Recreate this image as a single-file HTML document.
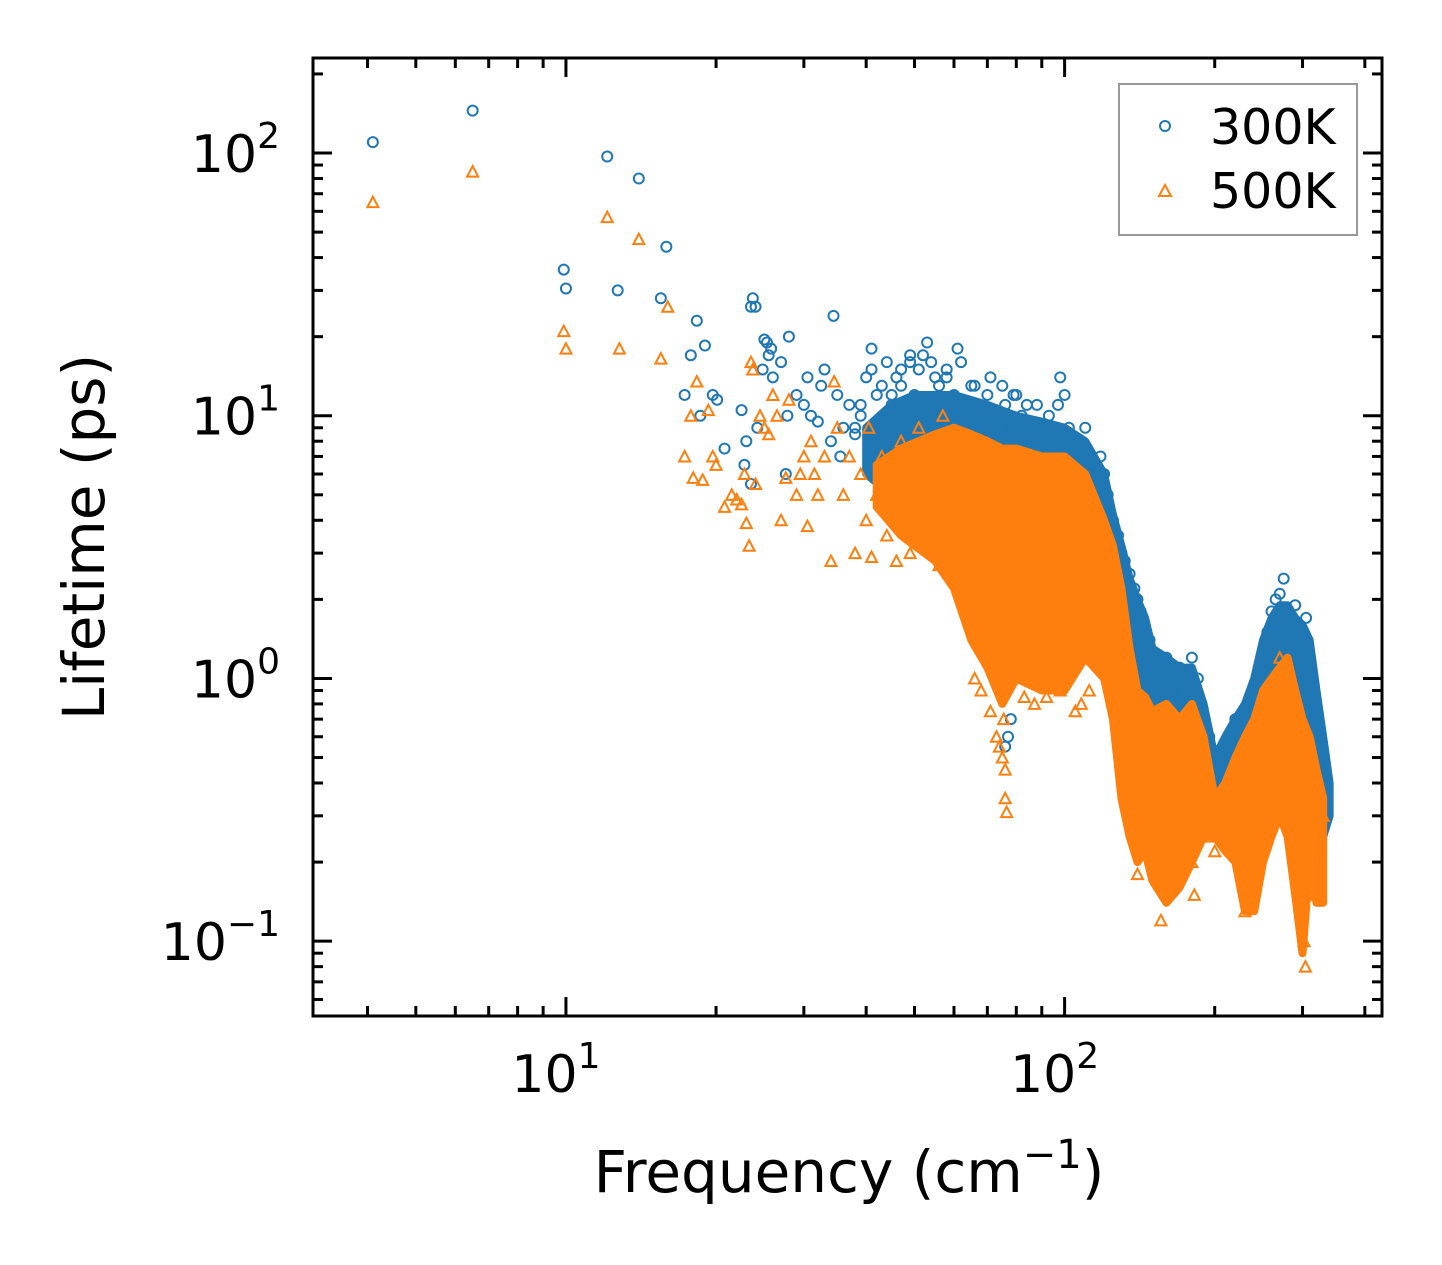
<!DOCTYPE html>
<html><head><meta charset="utf-8">
<style>
html,body{margin:0;padding:0;background:#fff;}
svg{display:block;font-family:"DejaVu Sans","Liberation Sans",sans-serif;}
</style></head>
<body>
<svg id="chart" width="1442" height="1265" viewBox="0 0 1442 1265" xmlns="http://www.w3.org/2000/svg">
<rect x="0" y="0" width="1442" height="1265" fill="#fff"/>
<g id="plot"></g>
<g id="axes"></g>
<g>
<rect x="1119" y="84" width="238" height="151" fill="#fff" stroke="#999" stroke-width="2"/>
<circle cx="1165" cy="126" r="5" fill="none" stroke="#1f77b4" stroke-width="2"/>
<text x="1210" y="144" font-size="49" fill="#000">300K</text>
<path d="M1159,196 L1165,185 L1171,196 Z" fill="none" stroke="#ff7f0e" stroke-width="2"/>
<text x="1210" y="208" font-size="49" fill="#000">500K</text>
</g>
<text x="849" y="1192" font-size="58" text-anchor="middle">Frequency (cm<tspan font-size="40" dy="-24">−1</tspan><tspan dy="24">)</tspan></text>
<text transform="translate(104,537) rotate(-90)" font-size="58" text-anchor="middle">Lifetime (ps)</text>
</svg>
<script>
// ---- data ----
const blueFreq = [4.1,6.5,9.9,10,12.1,12.7,14,15.5,15.9,17.3,17.8,18.3,18.6,19,19.7,20.1,20.8,22.5,22.8,23,23.5,23.5,23.7,24,24.2,24.8,25,25.3,25.5,25.8,26,27,27.6,27.8,28,29,30,30.5,31,32,32.5,33,34,34.4,35,35.5,36,37,38,39,40,41,42,43,44,45,46,47,48,49,50,51,52,53,54,55,56,57,58,60,61,62,63,65,66,68,70,72,74,75,76,78,80,82,85,88,90,92,95,98,100,102,104,106,108,110,112,115,118,120,122,125,128,130,132,135,138,140,142,145,148,150,155,160,165,170,175,180,185,190,195,200,205,210,215,220,225,230,235,240,245,250,255,260,265,270,275,280,285,290,295,300,305,310,315,320,325,330,335,76,77,78,38,39,41,43,45,47,49,52,55,58,62,66,71,79,84,93,97];
const blueLife = [110,145,36,30.5,97,30,80,28,44,12,17,23,10,18.5,12,11.5,7.5,10.5,6.5,8,5.5,26,28,26,9,15,19.5,19,17,18,14,16,6,10,20,12,11,14,10,9.5,13,15,8,24,12,7,9,11,8.5,10,14,18,12,9,16,11,14,13,9,17,12,15,10,19,16,11,13,9,14,12,18,10,8,13,11,9,12,10,8,13,11,9,12,10,8,11,9,7,8,14,12,9,7,8,6,9,6,5,7,6,5,4,3.5,3,2.8,2.5,2.2,2,1.8,1.5,1.4,1.2,1.1,1.2,0.9,1.1,0.8,1.2,1,0.7,0.6,0.4,0.35,0.4,0.5,0.7,0.6,0.75,0.5,0.7,0.9,1.2,1.5,1.8,2,2.1,2.4,1.8,1.5,1.9,1.6,1.3,1.7,1,0.8,0.6,0.5,0.4,0.3,0.55,0.6,0.7,9,11,15,13,12,15,16,17,14,15,16,13,14,12,11,10,11];
const blueBandFreq = [40,45,50,60,70,80,90,100,110,120,125,130,135,140,145,150,160,170,180,190,200,210,220,230,240,250,260,270,280,290,300,310,320,330,340];
const blueBandLo   = [6,5,4,3,2.5,2,2,2,1.8,1.2,1,0.8,0.5,0.3,0.28,0.25,0.28,0.3,0.35,0.3,0.25,0.25,0.3,0.3,0.3,0.35,0.35,0.35,0.3,0.3,0.3,0.28,0.25,0.25,0.3];
const blueBandHi   = [9,11,12,12,11,10,9.5,9,8,6,4.2,3.2,2.4,2,1.7,1.3,1.2,1.1,1.1,0.8,0.5,0.6,0.7,0.8,1.0,1.4,1.7,1.9,1.9,1.7,1.6,1.4,0.9,0.6,0.4];

const orangeFreq = [4.1,6.5,9.9,10,12.1,12.8,14,15.5,16,17.3,17.8,18,18.3,18.8,19.3,19.7,20,20.8,21.5,22,22.5,22.8,23,23.3,23.5,23.7,24,24.5,25,25.5,26,26.5,27,27.6,28,29,29.5,30,30.5,31,31.5,32,33,34,34.5,35,36,37,38,39,40,40.5,41,42,43,44,45,46,47,48,49,50,51,52,53,54,55,56,57,58,59,60,61,62,63,64,65,66,67,68,69,70,71,72,73,74,75,75.5,76,76.5,77,78,79,80,82,84,86,88,90,92,94,96,98,100,102,104,106,108,110,112,114,116,118,120,122,125,128,130,132,134,136,138,140,142,144,146,148,150,152,154,156,158,160,162,165,168,170,175,178,180,182,185,188,192,196,200,205,210,215,220,225,230,232,235,240,245,250,255,260,265,270,275,280,285,290,295,300,302,304,306,310,315,320,325,330,66,68,71,73,74,75,76,83,87,92,105,108,112];
const orangeLife = [65,85,21,18,57,18,47,16.5,26,7,10,5.8,13.5,5.7,10.5,7,6.5,4.5,5,4.8,4.6,6,3.9,3.2,16,15,5.5,10,9,8.5,12,10,4,5.8,11.5,5,6,7,3.8,8,6,5,7,2.8,13.5,9,5,7,3,6,4,9,2.9,5,7,3.5,6,2.8,8,4.5,3,6,9,4,3.2,7,5,2.7,10,4,6,3,8,2.5,5,2,7,3.5,1.8,6,2.5,4,1.5,5,2.2,1.2,3,0.7,0.35,0.31,1.5,5,2,3.5,1.3,2.5,4,1.2,3,1.8,4,2.2,0.9,3,5,1.5,2,6,1.3,4,2.5,1.8,3,2,1.5,1.2,1,0.8,0.7,0.5,0.35,0.25,0.18,0.3,0.5,0.4,0.7,0.5,0.3,0.2,0.12,0.25,0.4,0.6,0.3,0.2,0.45,0.7,0.3,0.2,0.15,0.6,0.35,0.3,0.25,0.22,0.28,0.25,0.3,0.35,0.2,0.13,0.3,0.4,0.5,0.3,0.6,0.8,0.5,0.9,1.2,0.7,0.5,0.3,0.8,0.4,0.25,0.1,0.08,0.15,0.5,0.35,0.2,0.15,0.3,1.0,0.9,0.75,0.6,0.55,0.5,0.45,0.85,0.8,0.85,0.75,0.8,0.9];
const orangeBandFreq = [42,47,55,60,65,70,75,80,90,100,110,120,125,130,135,140,145,150,160,170,180,190,200,210,220,230,240,250,260,270,280,290,300,310,320,330];
const orangeBandLo   = [4.5,3.5,2.8,2.2,1.4,1.1,0.8,1,0.9,0.9,1.2,1,0.7,0.35,0.25,0.2,0.22,0.17,0.14,0.16,0.2,0.25,0.25,0.22,0.2,0.13,0.13,0.2,0.25,0.3,0.25,0.15,0.09,0.2,0.14,0.14];
const orangeBandHi   = [6.5,7.5,8.5,9,8.5,8,7.5,7.5,7,7,6,4,3.2,2.2,1.3,0.9,0.85,0.75,0.8,0.7,0.8,0.6,0.35,0.4,0.5,0.6,0.7,0.9,1.0,1.1,1.2,0.9,0.7,0.6,0.45,0.35];

const xTickVals = [10,100];
const xTickExps = ["1","2"];
const yTickVals = [0.1,1,10,100];
const yTickExps = ["−1","0","1","2"];

// ---- scales ----
const L=313,R=1382,T=58,B=1016;
const xMinLog=Math.log10(3.11), xMaxLog=Math.log10(433);
const yMinLog=Math.log10(0.0519), yMaxLog=Math.log10(230);
function xs(v){return L+(Math.log10(v)-xMinLog)/(xMaxLog-xMinLog)*(R-L);}
function ys(v){return B-(Math.log10(v)-yMinLog)/(yMaxLog-yMinLog)*(B-T);}
const NS="http://www.w3.org/2000/svg";
const plot=document.getElementById('plot');
const axes=document.getElementById('axes');
function mk(tag,attrs,parent){const e=document.createElementNS(NS,tag);for(const k in attrs)e.setAttribute(k,attrs[k]);parent.appendChild(e);return e;}

function band(fr,lo,hi,color,name){
  let pts=[];
  for(let i=0;i<fr.length;i++)pts.push(xs(fr[i])+','+ys(hi[i]));
  for(let i=fr.length-1;i>=0;i--)pts.push(xs(fr[i])+','+ys(lo[i]));
  const p=mk('polygon',{points:pts.join(' '),fill:color,stroke:color,'stroke-width':8,'stroke-linejoin':'round'},plot);
  
  
}
function circles(fr,lf,name){
  for(let i=0;i<fr.length;i++){
    const c=mk('circle',{cx:xs(fr[i]),cy:ys(lf[i]),r:5,fill:'none',stroke:'#1f77b4','stroke-width':2},plot);
    
    
  }
}
function tris(fr,lf,name){
  for(let i=0;i<fr.length;i++){
    const x=xs(fr[i]),y=ys(lf[i]);
    const t=mk('path',{d:`M${x-5.5},${y+5} L${x},${y-5.5} L${x+5.5},${y+5} Z`,fill:'none',stroke:'#ff7f0e','stroke-width':2},plot);
    
    
  }
}
band(blueBandFreq,blueBandLo,blueBandHi,'#1f77b4','band-300k');
circles(blueFreq,blueLife,'point-300k');
band(orangeBandFreq,orangeBandLo,orangeBandHi,'#ff7f0e','band-500k');
tris(orangeFreq,orangeLife,'point-500k');

// ---- axes ----
mk('rect',{x:L,y:T,width:R-L,height:B-T,fill:'none',stroke:'#000','stroke-width':3},axes);
function tick(x1,y1,x2,y2){mk('line',{x1,y1,x2,y2,stroke:'#000','stroke-width':3},axes);}
for(let d=0;d<=3;d++){
  for(let m=1;m<=9;m++){
    const v=m*Math.pow(10,d);
    if(v<3.11||v>433)continue;
    const x=xs(v), len=(m===1)?19:10;
    tick(x,B,x,B-len); tick(x,T,x,T+len);
  }
}
for(let d=-2;d<=2;d++){
  for(let m=1;m<=9;m++){
    const v=m*Math.pow(10,d);
    if(v<0.0519||v>230)continue;
    const y=ys(v), len=(m===1)?19:10;
    tick(L,y,L+len,y); tick(R,y,R-len,y);
  }
}
for(let i=0;i<xTickVals.length;i++){
  const t=mk('text',{x:xs(xTickVals[i])-10,y:1092,'font-size':52,'text-anchor':'middle'},axes);
  
  
  t.innerHTML='10<tspan font-size="36" dy="-24">'+xTickExps[i]+'</tspan>';
}
for(let i=0;i<yTickVals.length;i++){
  const t=mk('text',{x:280,y:ys(yTickVals[i])+19,'font-size':52,'text-anchor':'end'},axes);
  
  
  t.innerHTML='10<tspan font-size="36" dy="-24">'+yTickExps[i]+'</tspan>';
}
</script>
</body></html>
